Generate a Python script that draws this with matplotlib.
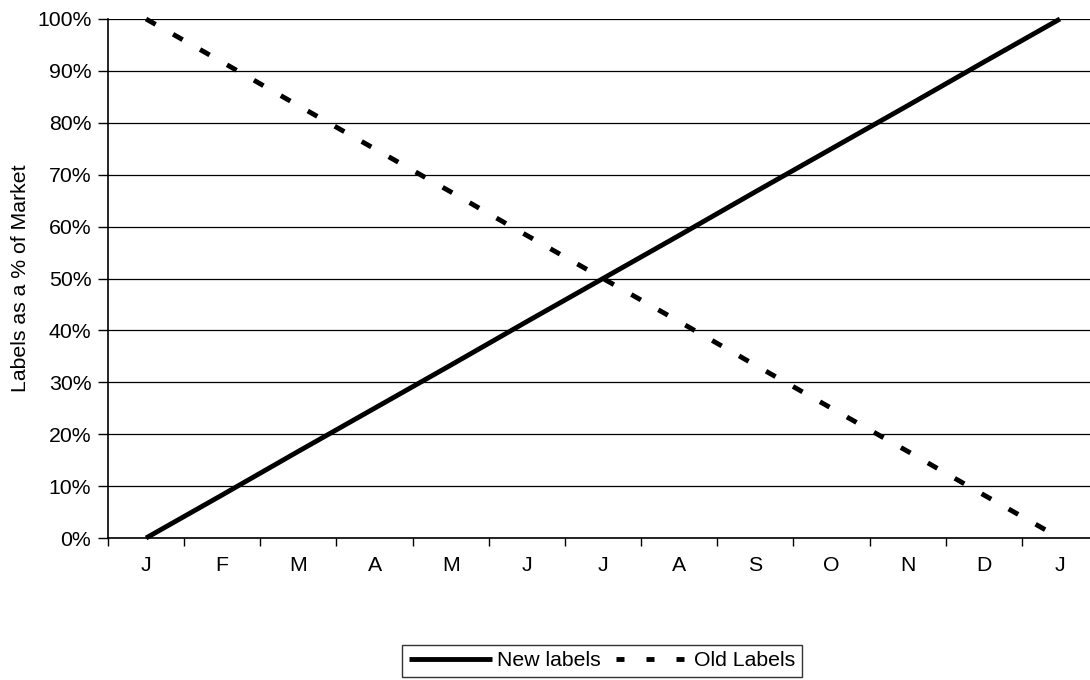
import matplotlib
matplotlib.use("Agg")
import matplotlib.pyplot as plt
from matplotlib.lines import Line2D
import numpy as np

plt.rcParams['font.family'] = ['Liberation Sans', 'DejaVu Sans']

months = ["J", "F", "M", "A", "M", "J", "J", "A", "S", "O", "N", "D", "J"]
new_labels = [0, 8.3, 16.7, 25, 33.3, 41.7, 50, 58.3, 66.7, 75, 83.3, 91.7, 100]
old_labels = [100, 91.7, 83.3, 75, 66.7, 58.3, 50, 41.7, 33.3, 25, 16.7, 8.3, 0]
y_ticks = [0, 10, 20, 30, 40, 50, 60, 70, 80, 90, 100]
y_ticklabels = [f"{v}%" for v in y_ticks]

FS = 15.3
fig = plt.figure(figsize=(10.9, 6.8), dpi=100)
ax = fig.add_axes([108/1090, 1-538/680, (1098-108)/1090, (538-19)/680])

x = np.arange(len(months))
lw = 3.5
px = lw * 100 / 72
ax.plot(x, new_labels, color='black', lw=lw, solid_capstyle='butt', clip_on=False)
ax.plot(x, old_labels, color='black', lw=lw, linestyle=(0, (11/px, 20/px)), dash_capstyle='butt',
        clip_on=False)

ax.set_xlim(-0.5, len(months) - 0.5)
ax.set_ylim(0, 100)
ax.set_yticks(y_ticks)
ax.set_yticklabels(y_ticklabels, fontsize=FS)
ax.set_xticks(x)
ax.set_xticklabels(months, fontsize=FS)
ax.set_xticks(np.arange(len(months) + 1) - 0.5, minor=True)
ax.tick_params(axis='x', which='major', length=0, pad=13)
ax.tick_params(axis='x', which='minor', length=6, width=1, color='black')
ax.tick_params(axis='y', length=7, width=1, color='black', pad=5)

ax.grid(axis='y', color='black', lw=0.9)
ax.set_axisbelow(True)
for s in ['top', 'right']:
    ax.spines[s].set_visible(False)
for s in ['left', 'bottom']:
    ax.spines[s].set_color('black')
    ax.spines[s].set_linewidth(1.2)

ax.set_ylabel("Labels as a % of Market", fontsize=FS, labelpad=5)

h_new = Line2D([], [], color='black', lw=lw, solid_capstyle='butt')
h_old = Line2D([], [], color='black', lw=lw, dash_capstyle='butt',
               linestyle=(20/px, (8/px, 22/px)))
leg = fig.legend([h_new, h_old], ['New labels', 'Old Labels'], loc='center',
                 bbox_to_anchor=(602/1090, 1-661/680), ncol=2, fontsize=FS,
                 frameon=True, fancybox=False, edgecolor='black', handlelength=3.9,
                 handletextpad=0.25, columnspacing=0.25, borderpad=0.3, borderaxespad=0)
leg.get_frame().set_linewidth(1.0)

fig.savefig("out.png", dpi=100)
